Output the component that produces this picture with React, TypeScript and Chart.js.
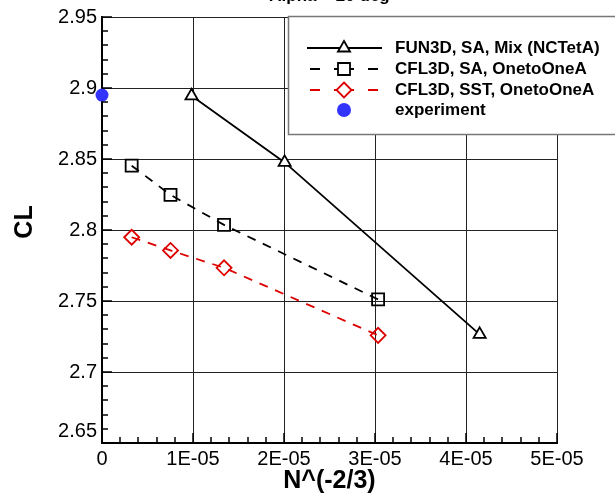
import React, { useEffect, useRef } from 'react';
import { Chart, registerables } from 'chart.js';

Chart.register(...registerables);

const titleText = 'Alpha = 20 deg';
const xTitle = 'N^(-2/3)';
const yTitle = 'CL';

const fun3dX = [0.984e-5, 2.007e-5, 4.15e-5];
const fun3dY = [2.8945, 2.8476, 2.7265];
const cflX = [0.326e-5, 0.753e-5, 1.341e-5, 3.034e-5];
const cflSaY = [2.8453, 2.8247, 2.8036, 2.7511];
const cflSstY = [2.7949, 2.7856, 2.7734, 2.7258];
const expX = [0];
const expY = [2.895];

const seriesLabels = [
  'FUN3D, SA, Mix (NCTetA)',
  'CFL3D, SA, OnetoOneA',
  'CFL3D, SST, OnetoOneA',
  'experiment',
];

const xMin = 0;
const xMax = 5e-5;
const xStep = 1e-5;
const yMin = 2.65;
const yMax = 2.95;
const yStep = 0.05;

const RED = '#dd0000';
const BLUE = '#3333ff';
const FONT = 'Arial, "Liberation Sans", Helvetica, sans-serif';

const toPts = (xs: number[], ys: number[]) => xs.map((x, i) => ({ x, y: ys[i] }));

function drawMarker(ctx: CanvasRenderingContext2D, kind: string, x: number, y: number, color: string) {
  ctx.save();
  ctx.setLineDash([]);
  ctx.lineWidth = 1.8;
  ctx.strokeStyle = color;
  ctx.fillStyle = '#ffffff';
  ctx.beginPath();
  if (kind === 'triangle') {
    const r = 7;
    ctx.moveTo(x, y - r);
    ctx.lineTo(x + r * 0.866, y + r * 0.5);
    ctx.lineTo(x - r * 0.866, y + r * 0.5);
    ctx.closePath();
    ctx.fill();
    ctx.stroke();
  } else if (kind === 'rect') {
    const h = 6;
    ctx.rect(x - h, y - h, 2 * h, 2 * h);
    ctx.fill();
    ctx.stroke();
  } else if (kind === 'diamond') {
    const r = 7.5;
    ctx.moveTo(x, y - r);
    ctx.lineTo(x + r, y);
    ctx.lineTo(x, y + r);
    ctx.lineTo(x - r, y);
    ctx.closePath();
    ctx.fill();
    ctx.stroke();
  } else {
    ctx.fillStyle = color;
    ctx.arc(x, y, 7, 0, Math.PI * 2);
    ctx.fill();
  }
  ctx.restore();
}

const decorPlugin = {
  id: 'decor',
  afterDraw(chart: any) {
    const ctx: CanvasRenderingContext2D = chart.ctx;
    const xs = chart.scales.x;
    const ys = chart.scales.y;
    const area = chart.chartArea;
    ctx.save();
    // minor / major ticks (inward)
    ctx.strokeStyle = '#000';
    ctx.lineWidth = 1.5;
    const nY = Math.round((yMax - yMin) / 0.01);
    for (let i = 0; i <= nY; i++) {
      const v = yMin + i * 0.01;
      const py = Math.round(ys.getPixelForValue(v));
      const len = i % 5 === 0 ? 10 : 6;
      ctx.beginPath();
      ctx.moveTo(area.left, py);
      ctx.lineTo(area.left + len, py);
      ctx.stroke();
    }
    const nX = Math.round((xMax - xMin) / 0.2e-5);
    for (let i = 0; i <= nX; i++) {
      const v = xMin + i * 0.2e-5;
      const px = Math.round(xs.getPixelForValue(v));
      const len = i % 5 === 0 ? 10 : 6;
      ctx.beginPath();
      ctx.moveTo(px, area.bottom);
      ctx.lineTo(px, area.bottom - len);
      ctx.stroke();
    }

    // title (mostly cut off at the top)
    ctx.fillStyle = '#000';
    ctx.font = `bold 17px ${FONT}`;
    ctx.textAlign = 'center';
    ctx.textBaseline = 'alphabetic';
    ctx.fillText(titleText, (area.left + area.right) / 2, 1);

    // axis titles
    ctx.font = `bold 25px ${FONT}`;
    ctx.textBaseline = 'middle';
    ctx.fillText(xTitle, (area.left + area.right) / 2, 481);
    ctx.save();
    ctx.translate(25, 222);
    ctx.rotate(-Math.PI / 2);
    ctx.fillText(yTitle, 0, 0);
    ctx.restore();

    // legend box
    ctx.fillStyle = '#fff';
    ctx.fillRect(288, 16, 340, 119);
    ctx.strokeStyle = '#777';
    ctx.lineWidth = 1.5;
    ctx.strokeRect(288.5, 16.5, 340, 118);

    const rows = [48, 69, 90, 110];
    const lx0 = 307;
    const lx1 = 382;
    const mx = 344;
    const kinds = ['triangle', 'rect', 'diamond', 'circle'];
    const colors = ['#000', '#000', RED, BLUE];
    for (let i = 0; i < 4; i++) {
      const y = rows[i];
      if (i < 3) {
        ctx.strokeStyle = colors[i];
        ctx.lineWidth = 1.8;
        ctx.setLineDash(i === 0 ? [] : [10, 14]);
        ctx.beginPath();
        ctx.moveTo(mx, y);
        ctx.lineTo(lx0, y);
        ctx.stroke();
        ctx.beginPath();
        ctx.moveTo(mx, y);
        ctx.lineTo(lx1, y);
        ctx.stroke();
        ctx.setLineDash([]);
      }
      drawMarker(ctx, kinds[i], mx, y, colors[i]);
      ctx.fillStyle = '#000';
      ctx.font = `bold 17px ${FONT}`;
      ctx.textAlign = 'left';
      ctx.textBaseline = 'middle';
      ctx.fillText(seriesLabels[i], 395, y);
    }
    ctx.restore();
  },
};

export default function App() {
  const ref = useRef<HTMLCanvasElement | null>(null);
  useEffect(() => {
    if (!ref.current) return;
    const chart = new Chart(ref.current, {
      type: 'scatter',
      data: {
        datasets: [
          {
            label: seriesLabels[0],
            data: toPts(fun3dX, fun3dY),
            showLine: true,
            borderColor: '#000',
            borderWidth: 1.8,
            pointStyle: 'triangle',
            pointRadius: 7,
            pointBorderWidth: 1.8,
            pointBackgroundColor: '#fff',
            pointBorderColor: '#000',
          },
          {
            label: seriesLabels[1],
            data: toPts(cflX, cflSaY),
            showLine: true,
            borderColor: '#000',
            borderWidth: 1.8,
            borderDash: [9, 8],
            pointStyle: 'rect',
            pointRadius: 8.5,
            pointBorderWidth: 1.8,
            pointBackgroundColor: 'rgba(255,255,255,0)',
            pointBorderColor: '#000',
          },
          {
            label: seriesLabels[2],
            data: toPts(cflX, cflSstY),
            showLine: true,
            borderColor: RED,
            borderWidth: 1.8,
            borderDash: [9, 8],
            pointStyle: 'rectRot',
            pointRadius: 7.5,
            pointBorderWidth: 1.8,
            pointBackgroundColor: 'rgba(255,255,255,0)',
            pointBorderColor: RED,
          },
          {
            label: seriesLabels[3],
            data: toPts(expX, expY),
            showLine: false,
            pointStyle: 'circle',
            pointRadius: 6.5,
            pointBorderWidth: 0,
            pointBackgroundColor: BLUE,
            pointBorderColor: BLUE,
            clip: false as any,
          },
        ],
      },
      options: {
        animation: false,
        responsive: false,
        maintainAspectRatio: false,
        layout: { padding: { top: 16, right: 58, left: 0, bottom: 0 } },
        plugins: { legend: { display: false }, tooltip: { enabled: false } },
        scales: {
          x: {
            type: 'linear',
            min: xMin,
            max: xMax,
            afterFit: (s: any) => { s.height = 53; },
            afterBuildTicks: (s: any) => {
              const t = [];
              for (let i = 0; i <= 5; i++) t.push({ value: xMin + i * xStep });
              s.ticks = t;
            },
            ticks: {
              color: '#000',
              font: { family: FONT, size: 20 },
              padding: 4,
              maxRotation: 0,
              callback: (v: any) => {
                const n = Math.round(Number(v) / xStep);
                return n === 0 ? '0' : `${n}E-05`;
              },
            },
            grid: { color: '#222', lineWidth: 1, drawTicks: false },
            border: { color: '#000', width: 2 },
          },
          y: {
            type: 'linear',
            min: yMin,
            max: yMax,
            afterFit: (s: any) => { s.width = 102; },
            afterBuildTicks: (s: any) => {
              const t = [];
              for (let i = 0; i <= 6; i++) t.push({ value: yMin + i * yStep });
              s.ticks = t;
            },
            ticks: {
              color: '#000',
              font: { family: FONT, size: 20 },
              padding: 5,
              callback: (v: any) => {
                const s = String(Number(Number(v).toFixed(2)));
                return Math.abs(Number(v) - yMin) < 1e-9 ? [s, ''] : s;
              },
            },
            grid: { color: '#222', lineWidth: 1, drawTicks: false },
            border: { color: '#000', width: 2 },
          },
        },
      },
      plugins: [decorPlugin],
    });
    return () => chart.destroy();
  }, []);
  return (
    <div style={{ position: 'fixed', left: 0, top: 0, width: 615, height: 496, background: '#fff' }}>
      <canvas ref={ref} width={615} height={496} style={{ width: 615, height: 496 }} />
    </div>
  );
}
